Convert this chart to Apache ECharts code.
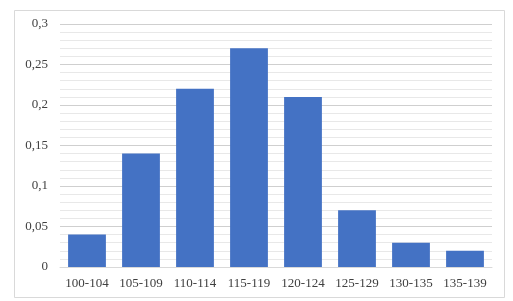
<!DOCTYPE html>
<html><head><meta charset="utf-8">
<script src="https://cdn.jsdelivr.net/npm/echarts@6/dist/echarts.min.js"></script>
<style>html,body{margin:0;padding:0;background:#fff}#c{width:513px;height:301px}</style>
</head><body><div id="c"></div>
<script>
const categories = ['100-104','105-109','110-114','115-119','120-124','125-129','130-135','135-139'];
const values = [0.04, 0.14, 0.22, 0.27, 0.21, 0.07, 0.03, 0.02];
const yMin = 0, yMax = 0.3, yStep = 0.05;

const chart = echarts.init(document.getElementById('c'), null, {renderer:'canvas'});
chart.setOption({
  animation:false,
  backgroundColor:'#fff',
  graphic:[{type:'rect', shape:{x:14.5,y:10.5,width:490,height:287}, style:{fill:'none', stroke:'#d9d9d9', lineWidth:1}, z:-1}],
  grid:{left:60, right:21, top:24, bottom:34},
  xAxis:{type:'category', data:categories,
    axisLine:{lineStyle:{color:'#d9d9d9'}}, axisTick:{show:false},
    axisLabel:{color:'#404040', fontFamily:'Liberation Serif', fontSize:13, margin:10, interval:0}},
  yAxis:{type:'value', min:yMin, max:yMax, interval:yStep,
    axisLine:{show:false}, axisTick:{show:false},
    axisLabel:{color:'#404040', fontFamily:'Liberation Serif', fontSize:13, margin:12,
      formatter:v=>String(+v.toFixed(2)).replace('.',',')},
    splitLine:{lineStyle:{color:'#cfcfcf'}},
    minorTick:{show:false, splitNumber:5},
    minorSplitLine:{show:true, lineStyle:{color:'#e8e8e8'}}},
  series:[{type:'bar', data:values, barWidth:'70%', itemStyle:{color:'#4472C4'}}]
});
</script></body></html>
